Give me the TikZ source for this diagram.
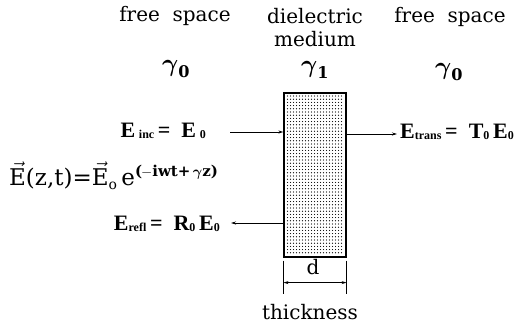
\documentclass[tikz,border=0pt]{standalone}
\usepackage{amsmath}
\usepackage{fontspec}
\setmainfont{DejaVu Serif}
\newfontfamily\labfont{Liberation Serif}
\usetikzlibrary{arrows.meta}
\newcommand\mysub[1]{\raisebox{-1.5pt}{\fontsize{12}{12}\selectfont #1}}
\begin{document}
\begin{tikzpicture}[x=1pt,y=-1pt,
  ttl/.style={font=\fontsize{20}{21}\selectfont, inner sep=0pt},
  gam/.style={font=\fontsize{23}{24}\selectfont, inner sep=0pt},
  lab/.style={font=\labfont\bfseries\fontsize{22}{24}\selectfont, inner sep=0pt},
  arr/.style={-{Stealth[length=5pt,width=3pt]}, line width=0.9pt},
  slab/.style={draw, line width=1.2pt}]
\useasboundingbox (0,0) rectangle (527,323);
% titles
\node[ttl] (fs1) at (175,16) {free\ \ space};
\node[ttl] (die) at (315,16) {dielectric};
\node[ttl] (med) at (315,39) {medium};
\node[ttl] (fs2) at (450,17) {free\ \ space};
\node[gam] (g1) at (176,69) {$\boldsymbol{\gamma}_{\mathbf 0}$};
\node[gam] (g2) at (315,70) {$\boldsymbol{\gamma}_{\mathbf 1}$};
\node[gam] (g3) at (449,72) {$\boldsymbol{\gamma}_{\mathbf 0}$};
% slab with dots
\foreach \xx in {287.5,290.5,...,344} {
  \foreach \yy in {96,99.2,...,255} {
    \fill (\xx,\yy) circle (0.6pt);
  }
}
\node[slab, minimum width=62pt, minimum height=164pt, inner sep=0pt] (box) at (315,175) {};
% labels
\node[lab, anchor=east] (inc) at (206,131) {E\,\mysub{inc}\,=\ \ E\,\mysub{0}};
\node[lab, anchor=west] (tr) at (400,132) {E\mysub{trans}\,=\ \ T\mysub{0}\,E\mysub{0}};
\node[lab, anchor=east] (ref) at (220,224) {E\mysub{refl}\,=\ \ R\mysub{0}\,E\mysub{0}};
\node[inner sep=0pt, anchor=west, font=\fontsize{23}{24}\selectfont] (eq) at (9,176)
  {$\vec{\hbox{E}}$(z,t)=$\vec{\hbox{E}}_{\hbox{\fontsize{14}{14}\selectfont o}}$\,e$^{\hbox{\bfseries\fontsize{15}{15}\selectfont (\kern-1pt$-$iwt+\,$\boldsymbol{\gamma}$z)}}$};
% arrows
\coordinate (incs) at (230,132);
\coordinate (tre) at (397,134);
\coordinate (refe) at (231,223);
\draw[arr] (incs) -- (incs -| box.west);
\draw[arr] (tre -| box.east) -- (tre);
\draw[arr] (refe -| box.west) -- (refe);
% dimension
\draw[line width=0.9pt] ([yshift=-3pt]box.south west) -- ++(0,33);
\draw[line width=0.9pt] ([yshift=-3pt]box.south east) -- ++(0,33);
\draw[{Stealth[length=5pt,width=3pt]}-{Stealth[length=5pt,width=3pt]}, line width=0.8pt]
  ([yshift=-25pt]box.south west) -- ([yshift=-25pt]box.south east);
\node[ttl] (d) at (313,267) {d};
\node[ttl] (th) at (310,312) {thickness};
\end{tikzpicture}
\end{document}
